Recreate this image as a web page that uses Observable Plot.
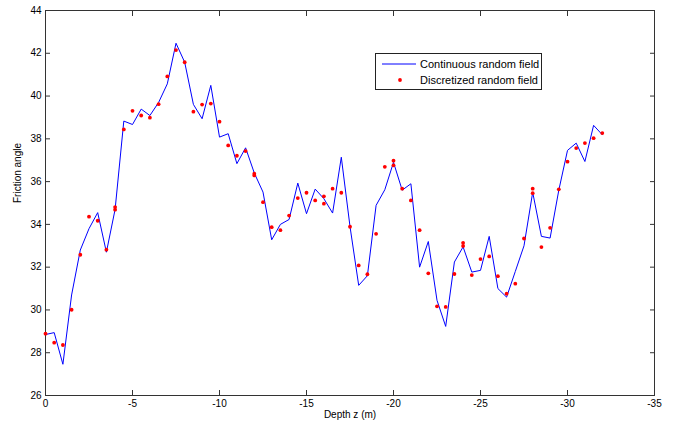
<!DOCTYPE html>
<html><head><meta charset="utf-8">
<script src="https://cdn.jsdelivr.net/npm/d3@7"></script>
<script src="https://cdn.jsdelivr.net/npm/@observablehq/plot@0.6"></script>
<style>
body{margin:0;background:#fff;}
#wrap{position:relative;width:678px;height:431px;font-family:"Liberation Sans",Arial,sans-serif;}
#legend{position:absolute;left:375px;top:53px;width:167px;height:37px;border:1px solid #222;background:#fff;font-size:11px;box-sizing:border-box;color:#000;}
#legend .row{position:absolute;left:0;height:14px;line-height:14px;}
#legend .sw{position:absolute;left:6px;width:34px;}
#legend .lab{position:absolute;left:44px;white-space:nowrap;}
</style></head><body>
<div id="wrap"></div>
<script>
// Continuous random field (line), depth step 0.5 m
const lineDepth = [0,-0.5,-1,-1.5,-2,-2.5,-3,-3.5,-4,-4.5,-5,-5.5,-6,-6.5,-7,-7.5,-8,-8.5,-9,-9.5,-10,-10.5,-11,-11.5,-12,-12.5,-13,-13.5,-14,-14.5,-15,-15.5,-16,-16.5,-17,-17.5,-18,-18.5,-19,-19.5,-20,-20.5,-21,-21.5,-22,-22.5,-23,-23.5,-24,-24.5,-25,-25.5,-26,-26.5,-27,-27.5,-28,-28.5,-29,-29.5,-30,-30.5,-31,-31.5,-32];
const lineAngle = [28.85,28.94,27.46,30.7,32.8,33.8,34.55,32.7,34.7,38.83,38.67,39.39,39.09,39.7,40.57,42.47,41.58,39.61,38.94,40.5,38.08,38.24,36.84,37.58,36.4,35.51,33.28,34.0,34.23,35.93,34.5,35.65,35.2,34.53,37.14,33.9,31.15,31.6,34.89,35.62,36.9,35.6,35.9,32.0,33.2,30.45,29.23,32.24,32.95,31.77,31.85,33.44,31.0,30.6,31.8,33.0,35.5,33.44,33.36,35.6,37.46,37.8,36.94,38.63,38.19];
// Discretized random field (dots)
const dotDepth = [0,-0.5,-1,-1.5,-2,-2.5,-3,-3.5,-4,-4,-4.5,-5,-5.5,-6,-6.5,-7,-7.5,-8,-8.5,-9,-9.5,-10,-10.5,-11,-11.5,-12,-12,-12.5,-13,-13.5,-14,-14.5,-15,-15.5,-16,-16,-16.5,-17,-17.5,-18,-18.5,-19,-19.5,-20,-20,-20.5,-21,-21.5,-22,-22.5,-23,-23.5,-24,-24,-24.5,-25,-25.5,-26,-26.5,-27,-27.5,-28,-28,-28.5,-29,-29.5,-30,-30.5,-31,-31.5,-32];
const dotAngle = [28.89,28.47,28.36,30.01,32.58,34.36,34.17,32.82,34.81,34.69,38.44,39.31,39.09,38.99,39.62,40.92,42.15,41.58,39.27,39.6,39.65,38.8,37.69,37.21,37.43,36.37,36.29,35.04,33.87,33.73,34.41,35.23,35.48,35.12,35.31,34.97,35.67,35.48,33.89,32.08,31.67,33.56,36.69,36.98,36.76,35.67,35.12,33.73,31.71,30.17,30.14,31.68,33.14,32.99,31.63,32.38,32.5,31.58,30.76,31.23,33.34,35.67,35.46,32.94,33.84,35.64,36.93,37.57,37.8,38.03,38.27];
const xTicks = [0,-5,-10,-15,-20,-25,-30,-35];
const yTicks = [26,28,30,32,34,36,38,40,42,44];
const legendLabels = ["Continuous random field","Discretized random field"];

const lineData = lineDepth.map((d,i)=>({depth:d, angle:lineAngle[i]}));
const dotData = dotDepth.map((d,i)=>({depth:d, angle:dotAngle[i]}));
const fmt = d => String(d);

const chart = Plot.plot({
  width: 678, height: 431,
  marginLeft: 45, marginRight: 24, marginTop: 10, marginBottom: 36,
  style: {fontFamily: '"Liberation Sans", Arial, sans-serif', fontSize: "10px", color: "#000", background: "#fff"},
  x: {domain: [0, -35], ticks: xTicks, label: null},
  y: {domain: [26, 44], ticks: yTicks, label: null},
  marks: [
    Plot.frame({stroke: "#333"}),
    Plot.axisX(xTicks, {anchor: "bottom", tickSize: -5, tickPadding: 9, tickFormat: fmt, stroke: "#333", label: null}),
    Plot.axisX(xTicks, {anchor: "top", tickSize: -5, tickFormat: () => "", stroke: "#333", label: null}),
    Plot.axisY(yTicks, {anchor: "left", tickSize: -5, tickPadding: 9, tickFormat: fmt, stroke: "#333", label: null}),
    Plot.axisY(yTicks, {anchor: "right", tickSize: -5, tickFormat: () => "", stroke: "#333", label: null}),
    Plot.line(lineData, {x: "depth", y: "angle", stroke: "#0000ff", strokeWidth: 1}),
    Plot.dot(dotData, {x: "depth", y: "angle", r: 1.9, fill: "#ff0000", stroke: "none"}),
    Plot.text(["Depth z (m)"], {frameAnchor: "bottom", dy: 22, text: d => d, fontSize: 10}),
    Plot.text(["Friction angle"], {frameAnchor: "left", dx: -28, rotate: -90, text: d => d, fontSize: 10})
  ]
});
const wrap = document.getElementById("wrap");
wrap.appendChild(chart);

const leg = document.createElement("div");
leg.id = "legend";
leg.innerHTML = `
<div class="row" style="top:3px;width:100%"><svg class="sw" width="34" height="14"><line x1="0" x2="34" y1="7" y2="7" stroke="#0000ff" stroke-width="1"/></svg><span class="lab">${legendLabels[0]}</span></div>
<div class="row" style="top:19px;width:100%"><svg class="sw" width="34" height="14"><circle cx="18" cy="7" r="1.9" fill="#ff0000"/></svg><span class="lab">${legendLabels[1]}</span></div>`;
wrap.appendChild(leg);
</script>
</body></html>
